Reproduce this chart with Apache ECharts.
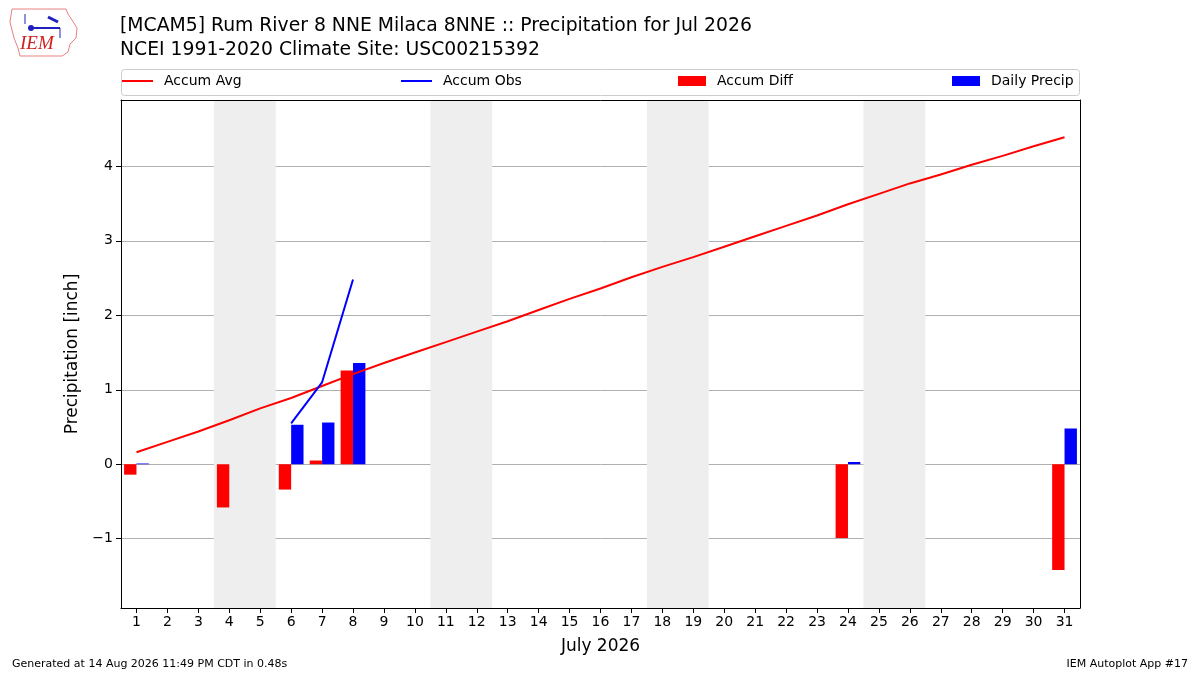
<!DOCTYPE html>
<html>
<head>
<meta charset="utf-8">
<script src="https://cdn.jsdelivr.net/npm/echarts@6/dist/echarts.min.js"></script>
<style>
  html, body { margin: 0; padding: 0; background: #fff; }
  #chart { width: 1200px; height: 675px; }
</style>
</head>
<body>
<div id="chart"></div>
<script>
// days of July 2026
var days = ['1','2','3','4','5','6','7','8','9','10','11','12','13','14','15','16',
            '17','18','19','20','21','22','23','24','25','26','27','28','29','30','31'];

// climatology accumulated precip (inch)
var accumAvg = [0.16, 0.30, 0.44, 0.59, 0.75, 0.89, 1.05, 1.21, 1.36, 1.50, 1.64,
                1.78, 1.92, 2.07, 2.22, 2.36, 2.51, 2.65, 2.78, 2.92, 3.06, 3.20,
                3.34, 3.49, 3.63, 3.77, 3.89, 4.02, 4.14, 4.27, 4.39];

// observed accumulation (only shown for 6-8)
var accumObs = [null, null, null, null, null, 0.55, 1.10, 2.48, null, null, null,
                null, null, null, null, null, null, null, null, null, null, null,
                null, null, null, null, null, null, null, null, null];

var accumDiff = [-0.14, null, null, -0.58, null, -0.34, 0.05, 1.26, null, null, null,
                 null, null, null, null, null, null, null, null, null, null, null,
                 null, -0.99, null, null, null, null, null, null, -1.42];

var dailyPrecip = [0.01, null, null, null, null, 0.53, 0.56, 1.36, null, null, null,
                   null, null, null, null, null, null, null, null, null, null, null,
                   null, 0.03, null, null, null, null, null, null, 0.48];

// weekend spans (day positions)
var weekendStart = [3.5, 10.5, 17.5, 24.5];
var weekendEnd = [5.5, 12.5, 19.5, 26.5];

var yMin = -1.93, yMax = 4.89;
var font = 'DejaVu Sans';

var chart = echarts.init(document.getElementById('chart'));

function minusFmt(v) {
  if (Math.abs(v - Math.round(v)) > 1e-6) return '';
  return v < 0 ? '\u2212' + (-v) : String(v);
}

var weekendData = weekendStart.map(function (s, i) { return [s, weekendEnd[i]]; });

var legendText = { fontFamily: font, fontSize: 14, color: '#000', padding: [0, 0, 0, 6] };

var option = {
  animation: false,
  backgroundColor: '#fff',
  textStyle: { fontFamily: font },
  title: {
    text: '[MCAM5] Rum River 8 NNE Milaca 8NNE :: Precipitation for Jul 2026\nNCEI 1991-2020 Climate Site: USC00215392',
    left: 120, top: 14, padding: 0,
    textStyle: { fontFamily: font, fontSize: 18.8, fontWeight: 'normal', color: '#000', lineHeight: 24 }
  },
  legend: [
    { data: ['Accum Avg'], left: 122, top: 74, padding: 0, icon: 'rect', itemWidth: 31, itemHeight: 2, textStyle: legendText },
    { data: ['Accum Obs'], left: 401, top: 74, padding: 0, icon: 'rect', itemWidth: 31, itemHeight: 2, textStyle: legendText },
    { data: ['Accum Diff'], left: 678, top: 74, padding: 0, icon: 'rect', itemWidth: 28, itemHeight: 10, textStyle: legendText },
    { data: ['Daily Precip'], left: 952, top: 74, padding: 0, icon: 'rect', itemWidth: 28, itemHeight: 10, textStyle: legendText }
  ],
  grid: { left: 121, right: 120, top: 100, bottom: 67, containLabel: false },
  xAxis: [
    {
      type: 'category', data: days, boundaryGap: true,
      name: 'July 2026', nameLocation: 'middle', nameGap: 30,
      nameTextStyle: { fontFamily: font, fontSize: 17, color: '#000' },
      axisLine: { show: true, onZero: false, lineStyle: { color: '#000', width: 1 } },
      axisTick: { show: true, alignWithLabel: true, length: 5, lineStyle: { color: '#000' } },
      axisLabel: { fontFamily: font, fontSize: 14, color: '#000', margin: 7, interval: 0 },
      splitLine: { show: false }
    },
    {
      type: 'value', position: 'top', min: 0.5, max: 31.5,
      axisLine: { show: true, onZero: false, lineStyle: { color: '#000', width: 1 } },
      axisTick: { show: false }, axisLabel: { show: false }, splitLine: { show: false }
    }
  ],
  yAxis: [
    {
      type: 'value', min: yMin, max: yMax, splitNumber: 7,
      name: 'Precipitation [inch]', nameLocation: 'middle', nameGap: 38,
      nameTextStyle: { fontFamily: font, fontSize: 17, color: '#000' },
      axisLine: { show: true, onZero: false, lineStyle: { color: '#000', width: 1 } },
      axisTick: { show: true, length: 5, lineStyle: { color: '#000' } },
      axisLabel: { fontFamily: font, fontSize: 14, color: '#000', margin: 8,
                   showMinLabel: false, showMaxLabel: false, formatter: minusFmt },
      splitLine: { show: true, lineStyle: { color: '#b0b0b0', width: 1 } }
    },
    {
      type: 'value', position: 'right', min: yMin, max: yMax,
      axisLine: { show: true, onZero: false, lineStyle: { color: '#000', width: 1 } },
      axisTick: { show: false }, axisLabel: { show: false }, splitLine: { show: false }
    }
  ],
  series: [
    {
      name: 'weekend', type: 'custom', xAxisIndex: 1, yAxisIndex: 0, silent: true, z: 0,
      data: weekendData,
      renderItem: function (params, api) {
        var p0 = api.coord([api.value(0), yMax]);
        var p1 = api.coord([api.value(1), yMin]);
        return { type: 'rect', shape: { x: p0[0], y: p0[1], width: p1[0] - p0[0], height: p1[1] - p0[1] },
                 style: { fill: '#eeeeee' } };
      }
    },
    {
      name: 'Accum Diff', type: 'bar', data: accumDiff, barWidth: '40%', barGap: '0%',
      itemStyle: { color: '#ff0000' }, z: 3
    },
    {
      name: 'Daily Precip', type: 'bar', data: dailyPrecip, barWidth: '40%', barGap: '0%',
      itemStyle: { color: '#0000ff' }, z: 3
    },
    {
      name: 'Accum Avg', type: 'line', data: accumAvg, showSymbol: false, symbol: 'none',
      lineStyle: { color: '#ff0000', width: 2 }, itemStyle: { color: '#ff0000' }, z: 4
    },
    {
      name: 'Accum Obs', type: 'line', data: accumObs, showSymbol: false, symbol: 'none',
      connectNulls: false,
      lineStyle: { color: '#0000ff', width: 2 }, itemStyle: { color: '#0000ff' }, z: 4
    }
  ],
  graphic: [
    // legend frame
    { type: 'rect', shape: { x: 121.5, y: 69.5, width: 958, height: 26, r: 3 },
      style: { fill: 'none', stroke: '#cccccc', lineWidth: 1 }, z: -1 },
    // IEM logo (rough)
    { type: 'polyline', shape: { points: [[12,9],[66,9],[68,14],[72,20],[77,28],[76,38],[70,44],[68,52],[62,56],[20,56],[18,48],[14,38],[10,22],[12,9]] },
      style: { fill: 'none', stroke: '#e88080', lineWidth: 1 } },
    { type: 'line', shape: { x1: 30, y1: 28, x2: 60, y2: 28 }, style: { stroke: '#2020c0', lineWidth: 2 } },
    { type: 'circle', shape: { cx: 31, cy: 28, r: 3 }, style: { fill: '#2020c0' } },
    { type: 'line', shape: { x1: 48, y1: 17, x2: 58, y2: 22 }, style: { stroke: '#2020c0', lineWidth: 3 } },
    { type: 'line', shape: { x1: 25, y1: 14, x2: 25, y2: 24 }, style: { stroke: '#2020c0', lineWidth: 1 } },
    { type: 'line', shape: { x1: 60, y1: 28, x2: 60, y2: 38 }, style: { stroke: '#2020c0', lineWidth: 1 } },
    { type: 'text', left: 20, top: 34,
      style: { text: 'IEM', font: 'italic 19px "Liberation Serif"', fill: '#d02020' } },
    // footer
    { type: 'text', left: 12, top: 659,
      style: { text: 'Generated at 14 Aug 2026 11:49 PM CDT in 0.48s', font: '11px "DejaVu Sans"', fill: '#000' } },
    { type: 'text', right: 12, top: 659,
      style: { text: 'IEM Autoplot App #17', font: '11px "DejaVu Sans"', fill: '#000' } }
  ]
};

chart.setOption(option);
</script>
</body>
</html>
